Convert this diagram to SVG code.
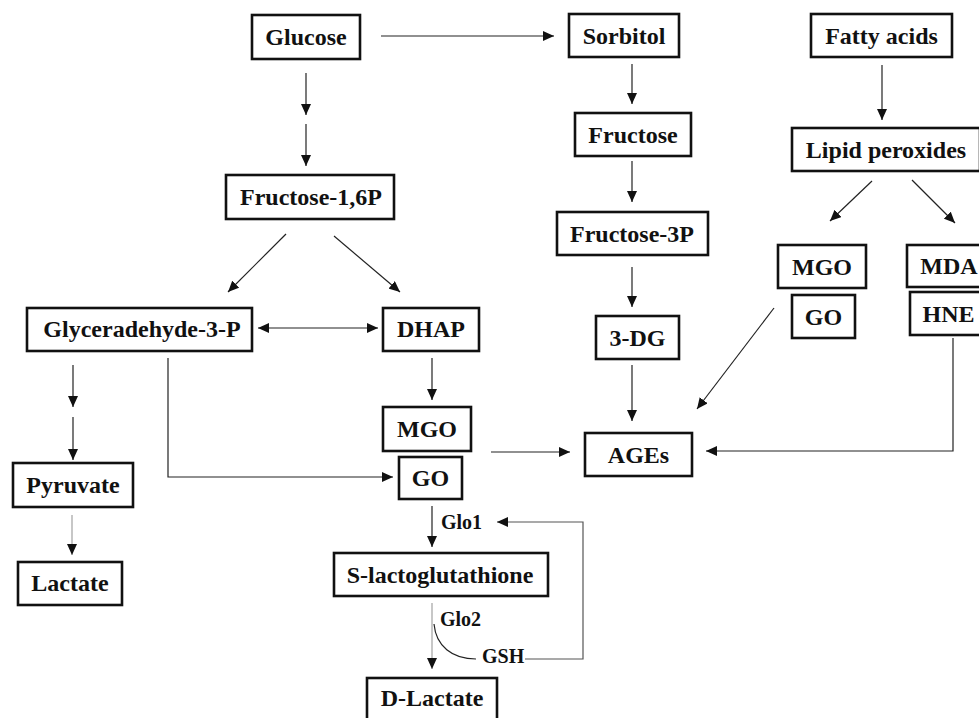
<svg xmlns="http://www.w3.org/2000/svg" width="979" height="718" viewBox="0 0 979 718">
<style>
.box{fill:#fff;stroke:#111;stroke-width:2.6}
.t{font-family:"Liberation Serif","Times New Roman",serif;font-weight:bold;font-size:24px;fill:#111;text-anchor:middle}
.lb{font-family:"Liberation Serif","Times New Roman",serif;font-weight:bold;font-size:20px;fill:#111}
.c{fill:none;stroke:#222;stroke-width:1.2}
.g{fill:none;stroke:#999;stroke-width:1.1}
.g2{fill:none;stroke:#555;stroke-width:1.2}
</style>
<defs>
<marker id="ah" markerUnits="userSpaceOnUse" markerWidth="11" markerHeight="10" refX="11" refY="5" orient="auto-start-reverse">
<path d="M0,0 L11,5 L0,10 z" fill="#111"/>
</marker>
</defs>
<rect width="979" height="718" fill="#fff"/>
<g id="connectors">
<line class="c" x1="381" y1="36" x2="554" y2="36" marker-end="url(#ah)"/>
<line class="c" x1="306" y1="73" x2="306" y2="115" marker-end="url(#ah)"/>
<line class="c" x1="306" y1="124" x2="306" y2="166" marker-end="url(#ah)"/>
<line class="c" x1="286" y1="234" x2="228" y2="292" marker-end="url(#ah)"/>
<line class="c" x1="334" y1="236" x2="400" y2="292" marker-end="url(#ah)"/>
<line class="c" x1="258" y1="328" x2="378" y2="328" marker-start="url(#ah)" marker-end="url(#ah)"/>
<line class="c" x1="432" y1="358" x2="432" y2="400" marker-end="url(#ah)"/>
<line class="c" x1="73" y1="365" x2="73" y2="407" marker-end="url(#ah)"/>
<line class="c" x1="73" y1="417" x2="73" y2="460" marker-end="url(#ah)"/>
<polyline class="c" points="168,358 168,477 393,477" marker-end="url(#ah)"/>
<line class="g" x1="72" y1="515" x2="72" y2="555" marker-end="url(#ah)"/>
<line class="c" x1="432" y1="506" x2="432" y2="547" marker-end="url(#ah)"/>
<line class="g" x1="432" y1="603" x2="432" y2="669" marker-end="url(#ah)"/>
<path class="c" d="M434,624 C436,646 452,659 476,659"/>
<polyline class="g2" points="525,659 583,659 583,522 497,522" marker-end="url(#ah)"/>
<line class="c" x1="632" y1="64" x2="632" y2="104" marker-end="url(#ah)"/>
<line class="c" x1="632" y1="161" x2="632" y2="202" marker-end="url(#ah)"/>
<line class="c" x1="632" y1="267" x2="632" y2="307" marker-end="url(#ah)"/>
<line class="c" x1="632" y1="365" x2="632" y2="421" marker-end="url(#ah)"/>
<line class="c" x1="882" y1="65" x2="882" y2="120" marker-end="url(#ah)"/>
<line class="c" x1="872" y1="181" x2="830" y2="221" marker-end="url(#ah)"/>
<line class="c" x1="912" y1="180" x2="955" y2="223" marker-end="url(#ah)"/>
<line class="c" x1="774" y1="308" x2="697" y2="409" marker-end="url(#ah)"/>
<polyline class="c" points="953,338 953,451 706,451" marker-end="url(#ah)"/>
<line class="c" x1="491" y1="452" x2="570" y2="452" marker-end="url(#ah)"/>
</g>
<g id="glucose"><rect class="box" x="252" y="15" width="108" height="44"/><text class="t" x="306" y="45">Glucose</text></g>
<g id="sorbitol"><rect class="box" x="569" y="14" width="110" height="43"/><text class="t" x="624" y="44">Sorbitol</text></g>
<g id="fatty-acids"><rect class="box" x="811" y="14" width="141" height="43"/><text class="t" x="881.5" y="44">Fatty acids</text></g>
<g id="fructose"><rect class="box" x="575" y="113" width="116" height="43"/><text class="t" x="633" y="143">Fructose</text></g>
<g id="lipid-peroxides"><rect class="box" x="792" y="128" width="188" height="43"/><text class="t" x="886" y="158">Lipid peroxides</text></g>
<g id="fructose-16p"><rect class="box" x="226" y="175" width="168" height="44"/><text class="t" x="311" y="205">Fructose-1,6P</text></g>
<g id="fructose-3p"><rect class="box" x="557" y="212" width="151" height="43"/><text class="t" x="632" y="242">Fructose-3P</text></g>
<g id="mgo-right"><rect class="box" x="778" y="245" width="88" height="43"/><text class="t" x="822" y="275">MGO</text></g>
<g id="mda"><rect class="box" x="907" y="245" width="84" height="42"/><text class="t" x="949" y="274">MDA</text></g>
<g id="go-right"><rect class="box" x="792" y="295" width="63" height="43"/><text class="t" x="823.5" y="325">GO</text></g>
<g id="hne"><rect class="box" x="910" y="292" width="80" height="43"/><text class="t" x="948.5" y="322">HNE</text></g>
<g id="glyceraldehyde-3p"><rect class="box" x="27" y="308" width="225" height="43"/><text class="t" x="142" y="337">Glyceradehyde-3-P</text></g>
<g id="dhap"><rect class="box" x="383" y="308" width="96" height="43"/><text class="t" x="431" y="337">DHAP</text></g>
<g id="3-dg"><rect class="box" x="596" y="316" width="83" height="43"/><text class="t" x="637.5" y="346">3-DG</text></g>
<g id="mgo-mid"><rect class="box" x="383" y="407" width="88" height="44"/><text class="t" x="427" y="437">MGO</text></g>
<g id="ages"><rect class="box" x="585" y="433" width="107" height="43"/><text class="t" x="638.5" y="463">AGEs</text></g>
<g id="go-mid"><rect class="box" x="399" y="457" width="63" height="42"/><text class="t" x="430.5" y="486">GO</text></g>
<g id="pyruvate"><rect class="box" x="13" y="463" width="120" height="44"/><text class="t" x="73" y="493">Pyruvate</text></g>
<g id="s-lactoglutathione"><rect class="box" x="334" y="553" width="214" height="43"/><text class="t" x="440" y="583">S-lactoglutathione</text></g>
<g id="lactate"><rect class="box" x="18" y="562" width="104" height="43"/><text class="t" x="70" y="591">Lactate</text></g>
<g id="d-lactate"><rect class="box" x="367" y="678" width="130" height="52"/><text class="t" x="432" y="706">D-Lactate</text></g>
<g id="labels">
<text class="lb" x="441" y="529">Glo1</text>
<text class="lb" x="440" y="626">Glo2</text>
<text class="lb" x="482" y="663">GSH</text>
</g>
</svg>
